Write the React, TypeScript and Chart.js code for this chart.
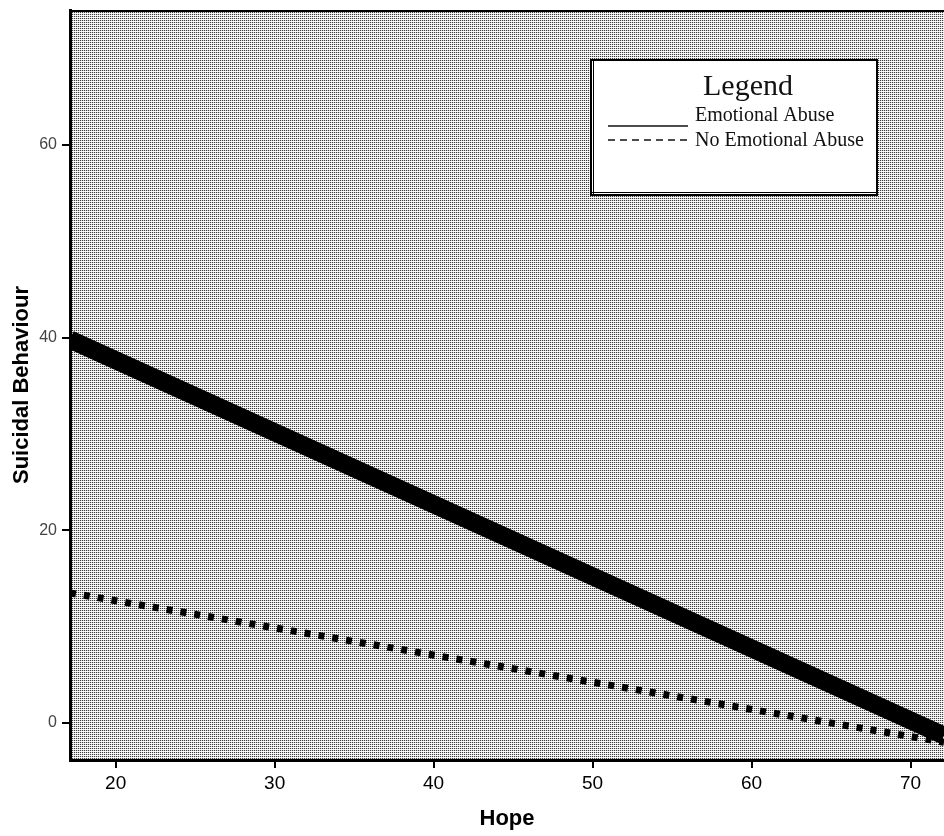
import React, { useEffect, useRef } from "react";
import { Chart, registerables } from "chart.js";

Chart.register(...registerables);

const hopeValues = [17.13, 72.1];
const emotionalAbuse = [39.8, -1.3];
const noEmotionalAbuse = [13.5, -2.0];
const xTickValues = [20, 30, 40, 50, 60, 70];
const yTickValues = [0, 20, 40, 60];
const seriesLabels = ["Emotional Abuse", "No Emotional Abuse"];
const legendTitle = "Legend";
const xTitle = "Hope";
const yTitle = "Suicidal Behaviour";

const framePlugin = {
  id: "frame",
  beforeDraw(chart: any) {
    const { ctx, chartArea } = chart;
    const tile = document.createElement("canvas");
    tile.width = 2;
    tile.height = 2;
    const t = tile.getContext("2d")!;
    t.fillStyle = "#ffffff";
    t.fillRect(0, 0, 2, 2);
    t.fillStyle = "#3c3c3c";
    t.fillRect(0, 0, 1, 1);
    t.fillStyle = "#d8d8d8";
    t.fillRect(1, 0, 1, 1);
    t.fillStyle = "#f2f2f2";
    t.fillRect(0, 1, 1, 1);
    const pat = ctx.createPattern(tile, "repeat");
    ctx.save();
    ctx.fillStyle = pat;
    ctx.fillRect(chartArea.left, chartArea.top, chartArea.right - chartArea.left, chartArea.bottom - chartArea.top);
    ctx.restore();
  },
  afterDraw(chart: any) {
    const { ctx, chartArea } = chart;
    ctx.save();
    ctx.strokeStyle = "#000";
    ctx.lineWidth = 2;
    ctx.beginPath();
    ctx.moveTo(chartArea.right, chartArea.top + 1);
    ctx.lineTo(chartArea.left, chartArea.top + 1);
    ctx.stroke();

    // legend box
    const bx = 591, by = 60, bw = 286, bh = 135;
    ctx.fillStyle = "#ffffff";
    ctx.fillRect(bx, by, bw, bh);
    ctx.lineWidth = 2;
    ctx.strokeStyle = "#000";
    ctx.strokeRect(bx, by, bw, bh);
    ctx.lineWidth = 1;
    ctx.beginPath();
    ctx.moveTo(bx + 2.5, by);
    ctx.lineTo(bx + 2.5, by + bh);
    ctx.moveTo(bx, by + bh - 2.5);
    ctx.lineTo(bx + bw, by + bh - 2.5);
    ctx.stroke();

    ctx.fillStyle = "#111";
    ctx.font = "30px 'Liberation Serif', serif";
    ctx.textAlign = "center";
    ctx.textBaseline = "alphabetic";
    ctx.fillText(legendTitle, 748, 95);

    ctx.font = "20px 'Liberation Serif', serif";
    ctx.textAlign = "left";
    ctx.fillText(seriesLabels[0], 695, 121);
    ctx.fillText(seriesLabels[1], 695, 146);

    ctx.strokeStyle = "#111";
    ctx.lineWidth = 1.5;
    ctx.beginPath();
    ctx.moveTo(608, 126);
    ctx.lineTo(688, 126);
    ctx.stroke();
    ctx.setLineDash([7, 5]);
    ctx.beginPath();
    ctx.moveTo(608, 140);
    ctx.lineTo(688, 140);
    ctx.stroke();
    ctx.restore();
  },
};

export default function App() {
  const ref = useRef<HTMLCanvasElement>(null);
  useEffect(() => {
    const chart = new Chart(ref.current!, {
      type: "line",
      data: {
        datasets: [
          {
            label: seriesLabels[0],
            data: hopeValues.map((x, i) => ({ x, y: emotionalAbuse[i] })),
            borderColor: "#000",
            borderWidth: 18,
            borderCapStyle: "butt",
            pointRadius: 0,
            fill: false,
          },
          {
            label: seriesLabels[1],
            data: hopeValues.map((x, i) => ({ x, y: noEmotionalAbuse[i] })),
            borderColor: "#000",
            borderWidth: 7,
            borderDash: [6, 8],
            borderCapStyle: "butt",
            pointRadius: 0,
            fill: false,
          },
        ],
      },
      options: {
        animation: false,
        responsive: false,
        maintainAspectRatio: false,
        layout: { padding: { top: 10, right: 0, left: 0, bottom: 0 } },
        plugins: { legend: { display: false }, tooltip: { enabled: false } },
        scales: {
          x: {
            type: "linear",
            min: 17.13,
            max: 72.1,
            afterBuildTicks: (s: any) => {
              s.ticks = xTickValues.map((v) => ({ value: v }));
            },
            afterFit: (s: any) => {
              s.height = 76;
              s.paddingLeft = 0;
              s.paddingRight = 0;
            },
            grid: { drawOnChartArea: false, drawTicks: true, tickLength: 8, color: "#000", lineWidth: 2 },
            border: { display: true, color: "#000", width: 3 },
            ticks: { color: "#000", font: { family: "'Liberation Sans', Arial, sans-serif", size: 19 }, padding: 4 },
            title: {
              display: true,
              text: xTitle,
              color: "#000",
              font: { family: "'Liberation Sans', Arial, sans-serif", size: 22, weight: "bold" },
              padding: { top: 0, bottom: 4 },
            },
          },
          y: {
            type: "linear",
            min: -3.84,
            max: 74.0,
            afterBuildTicks: (s: any) => {
              s.ticks = yTickValues.map((v) => ({ value: v }));
            },
            afterFit: (s: any) => {
              s.width = 70;
              s.paddingTop = 0;
              s.paddingBottom = 0;
            },
            grid: { drawOnChartArea: false, drawTicks: true, tickLength: 8, color: "#000", lineWidth: 2 },
            border: { display: true, color: "#000", width: 3 },
            ticks: { color: "#444", font: { family: "'Liberation Sans', Arial, sans-serif", size: 16 }, padding: 5 },
            title: {
              display: true,
              text: yTitle,
              color: "#000",
              font: { family: "'Liberation Sans', Arial, sans-serif", size: 22, weight: "bold" },
              padding: { top: 9, bottom: 0 },
            },
          },
        },
      },
      plugins: [framePlugin],
    } as any);
    return () => chart.destroy();
  }, []);
  return (
    <div style={{ position: "fixed", left: 0, top: 0, width: 944, height: 836, background: "#fff" }}>
      <canvas ref={ref} width={944} height={836} style={{ width: 944, height: 836, display: "block" }} />
    </div>
  );
}
